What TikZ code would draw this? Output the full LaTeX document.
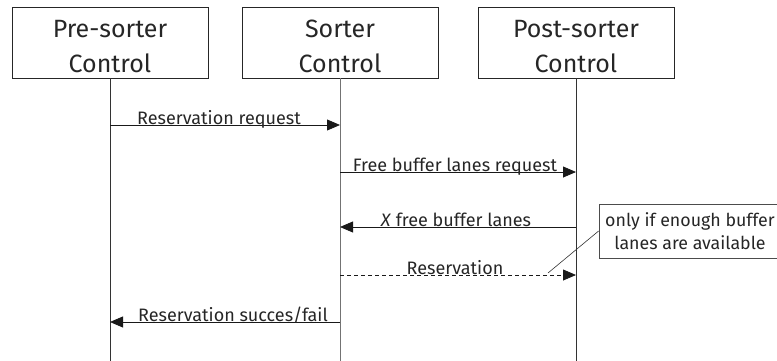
\documentclass[tikz,border=0pt]{standalone}
\usepackage{fontspec}
\setmainfont{Fira Sans}
\usetikzlibrary{arrows.meta}
\begin{document}
\begin{tikzpicture}[x=1pt,y=-1pt,
  actor/.style={draw=black!85,line width=0.8pt,minimum width=196pt,minimum height=71pt,inner sep=0pt},
  actortext/.style={align=center,inner sep=0pt,font=\fontsize{25}{35}\selectfont,text=black!85},
  life/.style={draw=black!80,line width=0.8pt},
  msg/.style={draw=black!90,line width=0.8pt,-{Triangle[length=13pt,width=11pt]}},
  lbl/.style={font=\fontsize{18}{21}\selectfont,anchor=base,inner sep=0pt,text=black!85},
  note/.style={draw=black!70,line width=0.8pt,align=center,inner sep=0pt,minimum width=182pt,minimum height=54pt,font=\fontsize{17.8}{23}\selectfont,text=black!85}]
\useasboundingbox (0,0) rectangle (777,361);
\node[actor] (pre) at (110,42.5) {};
\node[actor] (sor) at (340,42.5) {};
\node[actor] (post) at (576,42.5) {};
\node[actortext,anchor=base] (pret) at (110,72.5) {Pre-sorter\\Control};
\node[actortext,anchor=base] (sort) at (340,72.5) {Sorter\\Control};
\node[actortext,anchor=base] (postt) at (576,72.5) {Post-sorter\\Control};
\coordinate (preEnd) at (110,361);
\coordinate (sorEnd) at (340,361);
\coordinate (postEnd) at (576,361);
\draw[life] (pre.south) -- (preEnd);
\draw[life,draw=black!55] (sor.south) -- (sorEnd);
\draw[life] (post.south) -- (postEnd);
% message anchor points
\coordinate (a1) at (110,125); \coordinate (b1) at (340,125);
\coordinate (a2) at (340,172); \coordinate (b2) at (576,172);
\coordinate (a3) at (576,227); \coordinate (b3) at (340,227);
\coordinate (a4) at (340,275); \coordinate (b4) at (576,275);
\coordinate (a5) at (340,322); \coordinate (b5) at (110,322);
\draw[msg] (a1) -- (b1);
\node[lbl] (l1) at (219,124.5) {Reservation request};
\draw[msg] (a2) -- (b2);
\node[lbl] (l2) at (455,171.5) {Free buffer lanes request};
\draw[msg] (a3) -- (b3);
\node[lbl] (l3) at (456,226.5) {\textit{X} free buffer lanes};
\draw[msg,dash pattern=on 4pt off 3pt] (a4) -- (b4);
\node[lbl] (l4) at (455,274.5) {Reservation};
\draw[msg] (a5) -- (b5);
\node[lbl] (l5) at (233,321.5) {Reservation succes/fail};
\node[note] (n) at (690,231) {only if enough buffer\\lanes are available};
\coordinate (nt) at (548,273);
\draw[draw=black!80,line width=0.6pt] (n.west) -- (nt);
\end{tikzpicture}
\end{document}
